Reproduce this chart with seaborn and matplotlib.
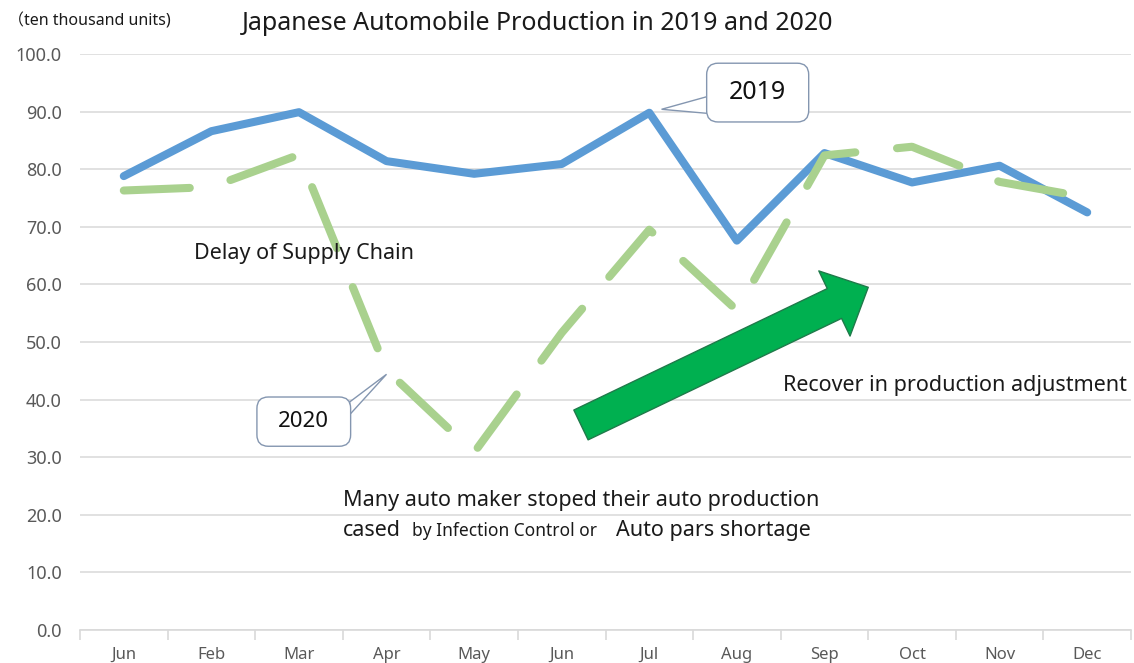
import matplotlib
matplotlib.use("Agg")
import matplotlib.pyplot as plt
import numpy as np
import pandas as pd
import seaborn as sns
from matplotlib.patches import FancyBboxPatch, Polygon, FancyArrowPatch, ArrowStyle
from matplotlib.ticker import FixedLocator

# Monthly production, ten thousand units
month_labels = ["Jun", "Feb", "Mar", "Apr", "May", "Jun",
                "Jul", "Aug", "Sep", "Oct", "Nov", "Dec"]
production_2019 = [78.8, 86.6, 89.9, 81.4, 79.2, 80.9,
                   89.8, 67.6, 82.8, 77.7, 80.6, 72.5]
production_2020 = [76.3, 76.9, 82.5, 45.1, 30.8, 51.6,
                   69.5, 55.5, 82.4, 83.9, 77.8, 75.1]
y_ticks = [0, 10, 20, 30, 40, 50, 60, 70, 80, 90, 100]

sns.set_theme(style="white")
plt.rcParams["font.family"] = ["Noto Sans", "Noto Sans CJK JP", "DejaVu Sans"]

W, H = 1134, 663
fig = plt.figure(figsize=(W / 100, H / 100), dpi=100)
ax = fig.add_axes([80 / W, 33 / H, (1131 - 80) / W, (630 - 54) / H])

positions = np.arange(len(month_labels))
df = pd.DataFrame({
    "pos": np.concatenate([positions, positions]),
    "value": production_2019 + production_2020,
    "year": ["2019"] * len(positions) + ["2020"] * len(positions),
})

sns.lineplot(data=df, x="pos", y="value", hue="year", style="year",
             palette={"2019": "#5b9bd5", "2020": "#a9d18e"},
             dashes={"2019": "", "2020": (8.2, 5.2)},
             linewidth=5.8, legend=False, ax=ax)
for line in ax.lines:
    line.set_dash_capstyle("round")
    line.set_solid_capstyle("round")
    line.set_solid_joinstyle("round")
    line.set_dash_joinstyle("round")

ax.set_xlim(-0.5, len(month_labels) - 0.5)
ax.set_ylim(0, 100)
ax.set_xlabel("")
ax.set_ylabel("")

ax.set_xticks(positions)
ax.set_xticklabels(month_labels)
ax.xaxis.set_minor_locator(FixedLocator(np.arange(-0.5, len(month_labels), 1.0)))
ax.set_yticks(y_ticks)
ax.set_yticklabels([f"{v:.1f}" for v in y_ticks])

ax.grid(axis="y", color="#d9d9d9", linewidth=1.1)
ax.grid(axis="x", visible=False)
ax.set_axisbelow(True)
for side in ("left", "top", "right"):
    ax.spines[side].set_visible(False)
ax.spines["bottom"].set_color("#d9d9d9")
ax.spines["bottom"].set_linewidth(1.2)

ax.tick_params(axis="y", length=0, pad=13, labelsize=13, labelcolor="#595959")
ax.tick_params(axis="x", which="major", length=0, pad=12, labelsize=12,
               labelcolor="#595959")
ax.tick_params(axis="x", which="minor", length=7, width=1.2, color="#d9d9d9",
               direction="out", bottom=True)

# Titles
fig.text(538 / W, 1 - 23 / H, "Japanese Automobile Production in 2019 and 2020",
         ha="center", va="center", fontsize=18, color="#1a1a1a")
fig.text(8 / W, 1 - 21 / H, "（ten thousand units)", ha="left", va="center",
         fontsize=11.5, color="#1a1a1a")

# Callouts
edge = "#8496b0"
aspect = (100 / 576) / (11 / (1087 - 123))


def callout(x0, y0, x1, y1, base_a, base_b, tip, label, size):
    ax.add_patch(Polygon([base_a, tip, base_b], closed=True, facecolor="white",
                         edgecolor=edge, linewidth=1.0, zorder=5))
    ax.add_patch(FancyBboxPatch((x0, y0), x1 - x0, y1 - y0,
                                boxstyle="round,pad=0,rounding_size=0.13",
                                mutation_aspect=aspect, facecolor="white",
                                edgecolor=edge, linewidth=1.0, zorder=6))
    ax.text((x0 + x1) / 2, (y0 + y1) / 2, label, ha="center", va="center",
            fontsize=size, color="#111111", zorder=7)


callout(6.655, 88.2, 7.82, 98.4, (6.66, 92.6), (6.66, 89.7), (6.14, 90.4), "2019", 18)
callout(1.52, 31.9, 2.59, 40.45, (2.58, 39.6), (2.58, 37.4), (3.0, 44.4), "2020", 16)

# Text notes
ax.text(0.80, 65.3, "Delay of Supply Chain", ha="left", va="center",
        fontsize=15.5, color="#1a1a1a")
ax.text(7.53, 42.4, "Recover in production adjustment", ha="left", va="center",
        fontsize=15.5, color="#1a1a1a")
ax.text(2.50, 21.6, "Many auto maker stoped their auto production", ha="left",
        va="baseline", fontsize=15.5, color="#1a1a1a")
ax.text(2.50, 16.3, "cased", ha="left", va="baseline", fontsize=15.5, color="#1a1a1a")
ax.text(3.29, 16.3, "by Infection Control or", ha="left", va="baseline",
        fontsize=12.5, color="#1a1a1a")
ax.text(5.62, 16.3, "Auto pars shortage", ha="left", va="baseline",
        fontsize=15.5, color="#1a1a1a")

# Recovery arrow
arrow = FancyArrowPatch((5.22, 35.6), (8.50, 59.5),
                        arrowstyle=ArrowStyle("Simple", head_length=27,
                                              head_width=52, tail_width=23.8),
                        mutation_scale=1, shrinkA=0, shrinkB=0,
                        facecolor="#00b050", edgecolor="#1f7a4a", linewidth=1.0,
                        zorder=8)
ax.add_patch(arrow)

fig.savefig("out.png", dpi=100, facecolor="white")
